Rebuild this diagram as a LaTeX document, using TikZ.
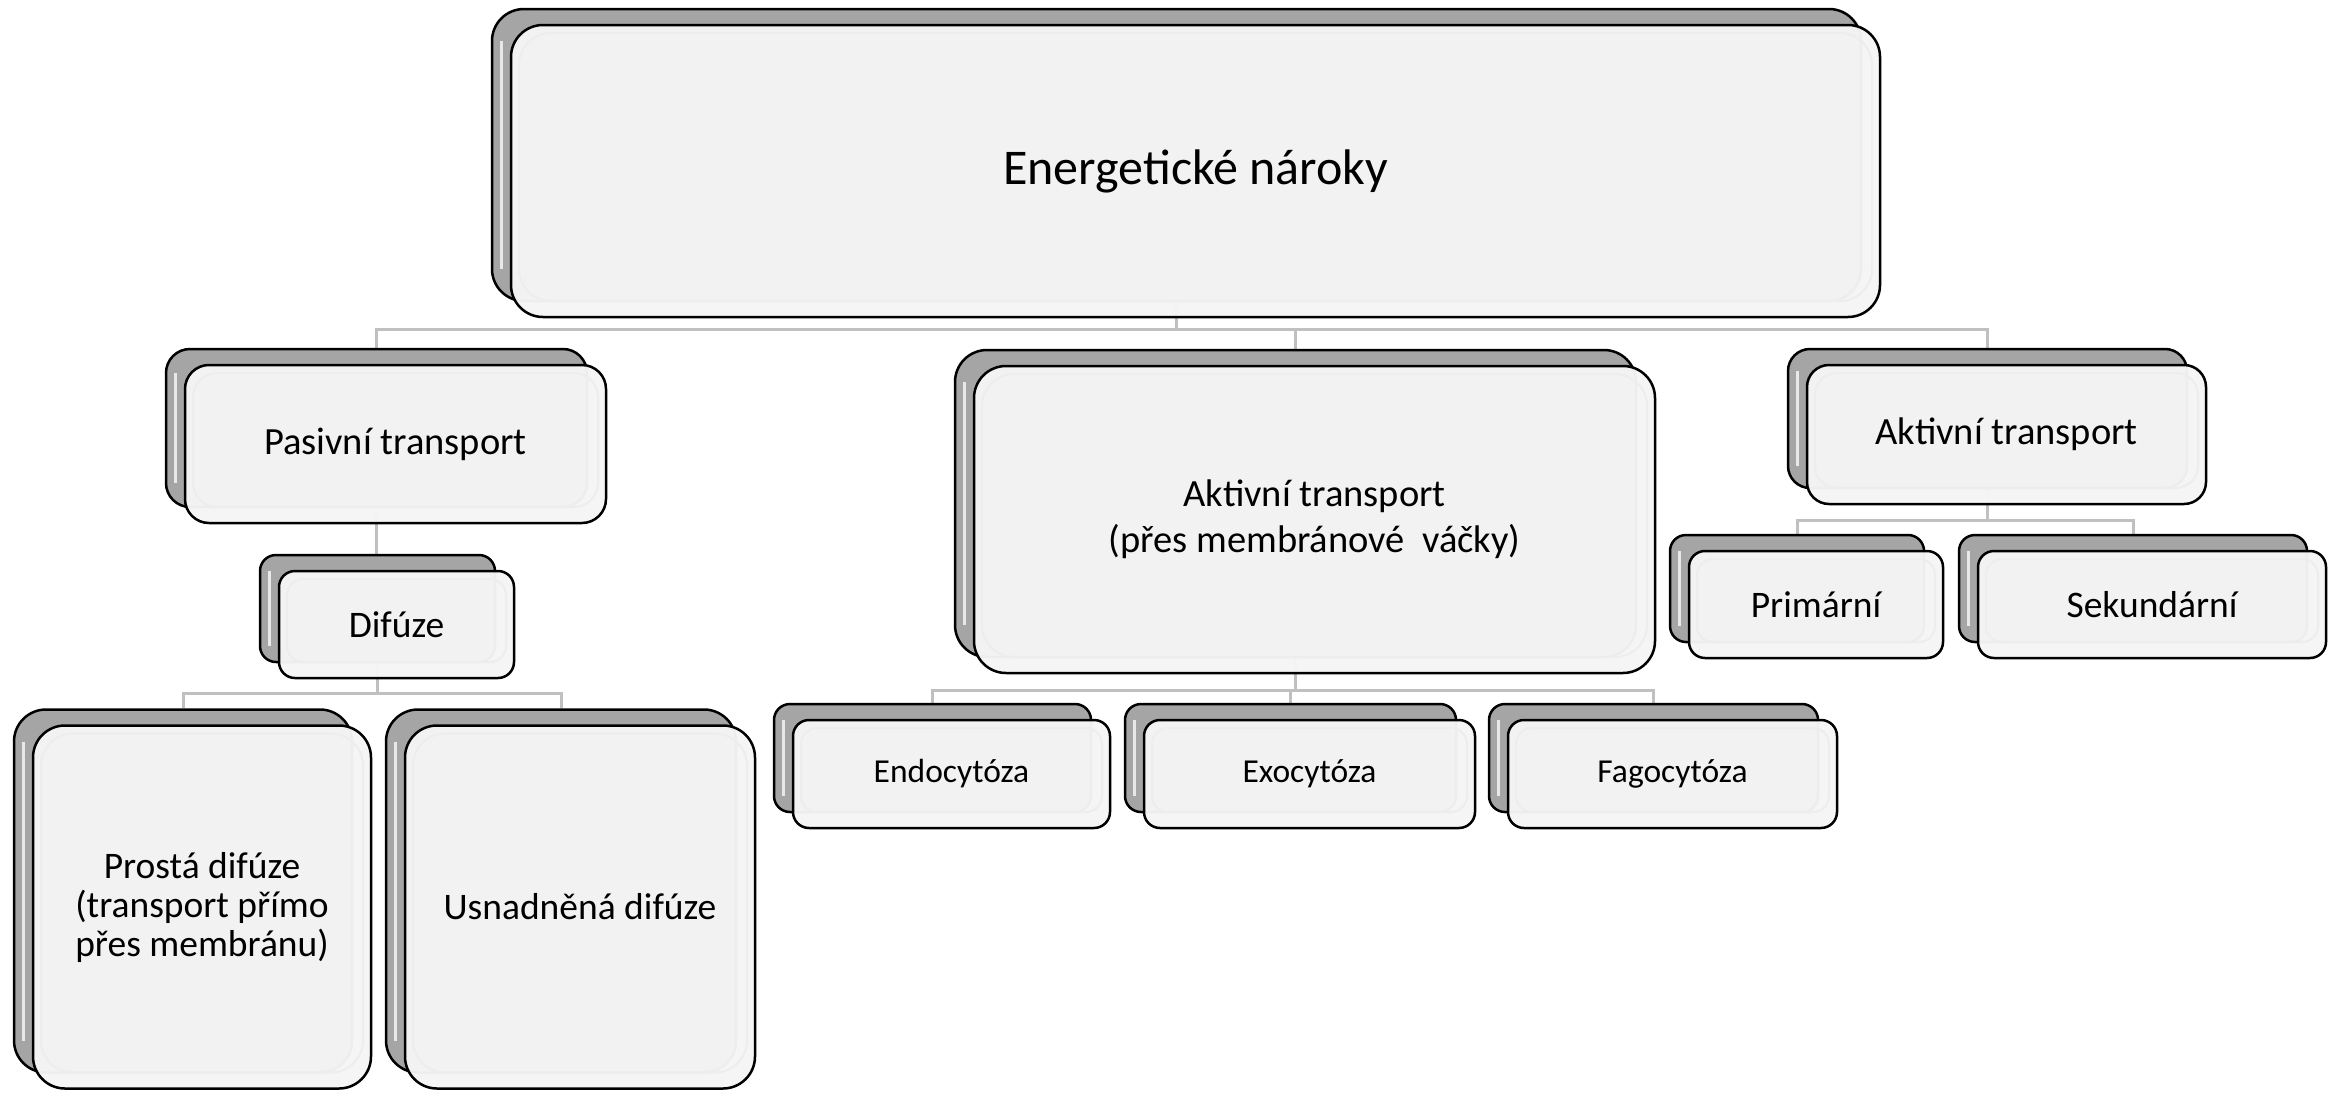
\documentclass[tikz,border=0pt]{standalone}
\usepackage{fontspec}
\setmainfont{Carlito}
\usetikzlibrary{backgrounds}

\definecolor{backgray}{HTML}{A5A5A5}
\definecolor{frontgray}{HTML}{F5F5F5}
\definecolor{linegray}{HTML}{C0C0C0}

\begin{document}
\begin{tikzpicture}[x=1pt,y=-1pt,
	backbox/.style={draw=black, line width=2.5pt, fill=backgray, rounded corners=#1, inner sep=0pt,
		path picture={\draw[white, opacity=.75, line width=3pt] ([shift={(9pt,-#1)}]path picture bounding box.north west) -- ([shift={(9pt,#1)}]path picture bounding box.south west);}},
	frontbox/.style={draw=black, line width=2.5pt, fill=frontgray, fill opacity=.97, text opacity=1, rounded corners=#1, inner sep=0pt, align=center,
		path picture={\draw[black!7, line width=2pt, rounded corners=#1] ([shift={(8pt,-8pt)}]path picture bounding box.north west) rectangle ([shift={(-8pt,16pt)}]path picture bounding box.south east);}},
	conn/.style={draw=linegray, line width=3pt},
	fbig/.style={font=\fontsize{50}{56}\selectfont},
	fmid/.style={font=\fontsize{38.5}{46}\selectfont},
	fsmall/.style={font=\fontsize{37.5}{39}\selectfont},
	ftiny/.style={font=\fontsize{33.5}{38}\selectfont},
	]
	\useasboundingbox (0,0) rectangle (2336,1092);
	
	% Top level
	\node[backbox=32pt, minimum width=1369pt, minimum height=292pt] (topB) at (1176.5,155) {};
	\node[frontbox=32pt, minimum width=1369pt, minimum height=292pt, fbig] (top) at (1195.5,171) {Energetické nároky};
	
	% Second level
	\node[backbox=24pt, minimum width=421pt, minimum height=158pt] (pasB) at (376.5,428) {};
	\node[frontbox=24pt, minimum width=421pt, minimum height=158pt, fmid] (pas) at (395.5,444) {Pasivní transport};
	
	\node[backbox=32pt, minimum width=681pt, minimum height=307pt] (midB) at (1295.5,503.5) {};
	\node[frontbox=32pt, minimum width=681pt, minimum height=307pt, fmid] (mid) at (1314.5,519.5) {Aktivní transport\\(přes membránové \ váčky)};
	
	\node[backbox=22pt, minimum width=399pt, minimum height=139pt] (aktB) at (1987.5,418.5) {};
	\node[frontbox=22pt, minimum width=399pt, minimum height=139pt, fmid] (akt) at (2006.5,434.5) {Aktivní transport};
	
	% Third level
	\node[backbox=16pt, minimum width=235pt, minimum height=107pt] (difB) at (377.5,608.5) {};
	\node[frontbox=16pt, minimum width=235pt, minimum height=107pt, fsmall] (dif) at (396.5,624.5) {Difúze};
	
	\node[backbox=16pt, minimum width=254pt, minimum height=107pt] (priB) at (1797,588.5) {};
	\node[frontbox=16pt, minimum width=254pt, minimum height=107pt, fsmall] (pri) at (1816,604.5) {Primární};
	
	\node[backbox=16pt, minimum width=348pt, minimum height=107pt] (sekB) at (2133,588.5) {};
	\node[frontbox=16pt, minimum width=348pt, minimum height=107pt, fsmall] (sek) at (2152,604.5) {Sekundární};
	
	\node[backbox=16pt, minimum width=317pt, minimum height=108pt] (endoB) at (932.5,758) {};
	\node[frontbox=16pt, minimum width=317pt, minimum height=108pt, ftiny] (endo) at (951.5,774) {Endocytóza};
	
	\node[backbox=16pt, minimum width=331pt, minimum height=108pt] (exoB) at (1290.5,758) {};
	\node[frontbox=16pt, minimum width=331pt, minimum height=108pt, ftiny] (exo) at (1309.5,774) {Exocytóza};
	
	\node[backbox=16pt, minimum width=329pt, minimum height=108pt] (fagB) at (1653.5,758) {};
	\node[frontbox=16pt, minimum width=329pt, minimum height=108pt, ftiny] (fag) at (1672.5,774) {Fagocytóza};
	
	% Bottom level
	\node[backbox=32pt, minimum width=338pt, minimum height=363pt] (proB) at (183,891) {};
	\node[frontbox=32pt, minimum width=338pt, minimum height=363pt, fsmall] (pro) at (202,907) {Prostá difúze\\(transport přímo\\přes membránu)};
	
	\node[backbox=32pt, minimum width=350pt, minimum height=363pt] (usnB) at (561,891) {};
	\node[frontbox=32pt, minimum width=350pt, minimum height=363pt, fsmall] (usn) at (580,907) {Usnadněná difúze};
	
	% Connectors
	\coordinate (barTop) at (0,329);
	\coordinate (barAkt) at (0,520);
	\coordinate (barMid) at (0,690);
	\coordinate (barDif) at (0,693);
	\begin{scope}[on background layer]
		\draw[conn] (topB.south) -- (topB.south |- barTop) -| (pasB.north);
		\draw[conn] (topB.south) -- (topB.south |- barTop) -| (midB.north);
		\draw[conn] (topB.south) -- (topB.south |- barTop) -| (aktB.north);
		\draw[conn] (pasB.south) -- (pasB.south |- difB.north);
		\draw[conn] (aktB.south) -- (aktB.south |- barAkt) -| (priB.north);
		\draw[conn] (aktB.south) -- (aktB.south |- barAkt) -| (sekB.north);
		\draw[conn] (midB.south) -- (midB.south |- barMid) -| (endoB.north);
		\draw[conn] (midB.south) -- (midB.south |- barMid) -| (exoB.north);
		\draw[conn] (midB.south) -- (midB.south |- barMid) -| (fagB.north);
		\draw[conn] (difB.south) -- (difB.south |- barDif) -| (proB.north);
		\draw[conn] (difB.south) -- (difB.south |- barDif) -| (usnB.north);
	\end{scope}
\end{tikzpicture}
\end{document}
